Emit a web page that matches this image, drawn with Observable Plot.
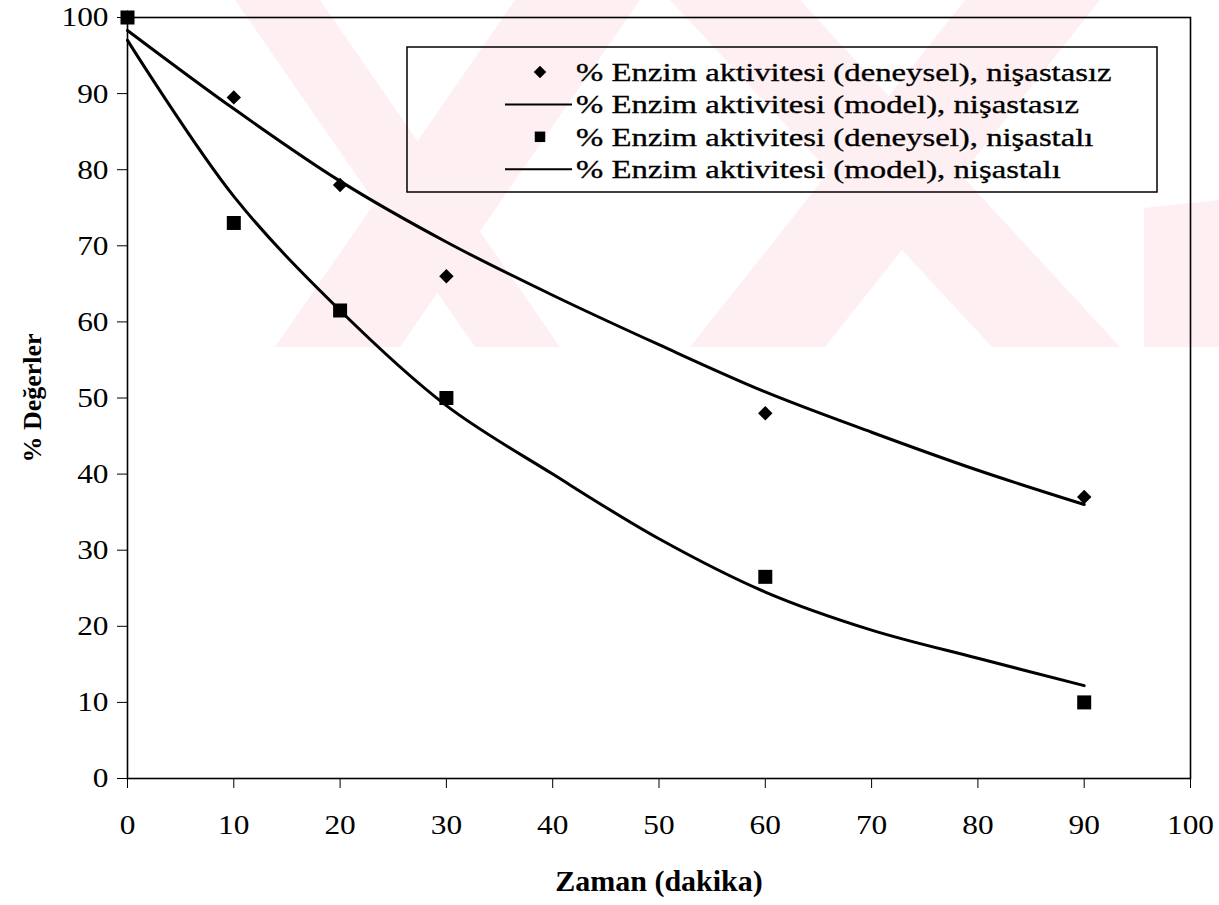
<!DOCTYPE html>
<html>
<head>
<meta charset="utf-8">
<script src="https://cdn.jsdelivr.net/npm/d3@7"></script>
<script src="https://cdn.jsdelivr.net/npm/@observablehq/plot@0.6"></script>
<style>
  body { margin: 0; background: #fff; }
  #wrap { position: relative; width: 1219px; height: 905px; overflow: hidden; }
  #wm, #chart, #legend { position: absolute; left: 0; top: 0; }
  #legend { pointer-events: none; }
</style>
</head>
<body>
<div id="wrap">
  <svg id="wm" width="1219" height="905"></svg>
  <div id="chart"></div>
  <svg id="legend" width="1219" height="905"></svg>
</div>
<script>
// ---- data ----
const zaman = [0, 10, 20, 30, 60, 90];
const deneyselNisastasiz = [100, 89.5, 78, 66, 48, 37];
const deneyselNisastali = [100, 73, 61.5, 50, 26.5, 10];

const modelZaman = [0, 10, 20, 30, 40, 50, 60, 70, 80, 90];
const modelNisastasiz = [98.3, 88, 78.5, 70.5, 63.5, 57, 50.8, 45.5, 40.5, 36];
const modelNisastali = [97, 76.5, 61.5, 49, 40, 31.5, 24.5, 19.5, 15.8, 12.2];

const xTicks = [0, 10, 20, 30, 40, 50, 60, 70, 80, 90, 100];
const yTicks = [0, 10, 20, 30, 40, 50, 60, 70, 80, 90, 100];

const legendLabels = [
  "% Enzim aktivitesi (deneysel), nişastasız",
  "% Enzim aktivitesi (model), nişastasız",
  "% Enzim aktivitesi (deneysel), nişastalı",
  "% Enzim aktivitesi (model), nişastalı"
];
const legendKinds = ["diamond", "line", "square", "line"];

// ---- tables ----
const expA = zaman.map((t, i) => ({t, v: deneyselNisastasiz[i]}));
const expB = zaman.map((t, i) => ({t, v: deneyselNisastali[i]}));
const modA = modelZaman.map((t, i) => ({t, v: modelNisastasiz[i]}));
const modB = modelZaman.map((t, i) => ({t, v: modelNisastali[i]}));

const serif = "'Liberation Serif', 'Times New Roman', Times, serif";

// ---- watermark (decorative background) ----
const wmColor = "#fef0f2";
const wmShapes = [
  [[235,0],[320,0],[560,347],[475,347]],
  [[275,347],[400,347],[640,0],[515,0]],
  [[690,347],[825,347],[1100,0],[965,0]],
  [[670,0],[800,0],[1120,347],[992,347]],
  [[1144,347],[1219,347],[1219,200],[1144,208]]
];
d3.select("#wm").selectAll("polygon").data(wmShapes).join("polygon")
  .attr("points", d => d.map(p => p.join(",")).join(" "))
  .attr("fill", wmColor);

// ---- chart ----
const chart = Plot.plot({
  width: 1219,
  height: 905,
  marginLeft: 127,
  marginRight: 29,
  marginTop: 17,
  marginBottom: 127,
  style: {background: "transparent", fontFamily: serif, fontSize: "28px", color: "#000"},
  x: {domain: [0, 100]},
  y: {domain: [0, 100]},
  marks: [
    Plot.frame({stroke: "#000", strokeWidth: 1.6}),
    Plot.axisX({ticks: xTicks, tickSize: 10, tickPadding: 26, tickFormat: d => String(d),
      label: null, fontSize: 28}),
    Plot.axisX({ticks: [], label: "Zaman (dakika)", labelAnchor: "center", labelOffset: 112, fontSize: 30, fontWeight: "bold"}),
    Plot.axisY({ticks: yTicks, tickSize: 10, tickPadding: 9, tickFormat: d => String(d),
      label: null, fontSize: 28}),
    Plot.axisY({ticks: [], label: "% Değerler", labelAnchor: "center", labelOffset: 105, fontSize: 26, fontWeight: "bold"}),
    Plot.line(modA, {x: "t", y: "v", curve: "catmull-rom", stroke: "#000", strokeWidth: 3}),
    Plot.line(modB, {x: "t", y: "v", curve: "catmull-rom", stroke: "#000", strokeWidth: 3}),
    Plot.dot(expA, {x: "t", y: "v", symbol: "diamond2", r: 6.5, fill: "#000", stroke: "none"}),
    Plot.dot(expB, {x: "t", y: "v", symbol: "square", r: 7.9, fill: "#000", stroke: "none"})
  ]
});
document.getElementById("chart").appendChild(chart);

// bold axis titles, strip arrows, widen tick labels slightly like the scanned original
chart.querySelectorAll('[aria-label="x-axis label"], [aria-label="y-axis label"]').forEach(g => {
  g.setAttribute("font-weight", "bold");
  g.querySelectorAll("text, tspan").forEach(t => {
    if (t.childNodes.length === 1 && t.firstChild.nodeType === 3) {
      t.textContent = t.textContent.replace(/\s*[→↑←↓]\s*/g, "").trim();
    }
  });
});
chart.querySelectorAll('[aria-label="x-axis tick label"] text, [aria-label="y-axis tick label"] text').forEach(t => {
  const tr = t.getAttribute("transform") || "";
  t.setAttribute("transform", tr + " scale(1.12,1)");
});

// ---- legend ----
const lg = d3.select("#legend");
lg.append("rect").attr("x", 407).attr("y", 47).attr("width", 750).attr("height", 145)
  .attr("fill", "none").attr("stroke", "#000").attr("stroke-width", 1.5);
legendLabels.forEach((lab, i) => {
  const cy = 72 + i * 32.4;
  const k = legendKinds[i];
  if (k === "line") {
    lg.append("line").attr("x1", 505).attr("x2", 572).attr("y1", cy).attr("y2", cy)
      .attr("stroke", "#000").attr("stroke-width", 2);
  } else {
    const sym = k === "diamond" ? d3.symbolDiamond2 : d3.symbolSquare;
    lg.append("path").attr("d", d3.symbol(sym, k === "diamond" ? 100 : 110)())
      .attr("transform", `translate(540,${cy})`).attr("fill", "#000");
  }
  lg.append("text").attr("transform", `translate(576,${cy}) scale(1.26,1)`)
    .attr("dy", "0.34em").attr("font-family", serif).attr("font-size", 26)
    .attr("fill", "#000").attr("stroke", "#000").attr("stroke-width", 0.35)
    .text(lab);
});
</script>
</body>
</html>
